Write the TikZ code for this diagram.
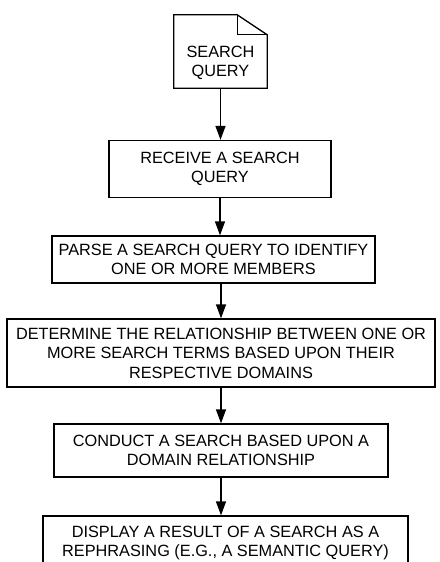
\documentclass[tikz,border=0pt]{standalone}
\usepackage{fontspec}
\setmainfont{Liberation Sans}
\usetikzlibrary{arrows.meta}

\begin{document}
\begin{tikzpicture}[x=1pt, y=-1pt,
        every node/.style={font=\fontsize{16.3}{19.5}\selectfont, align=center, inner sep=0pt},
        box/.style={draw, line width=1.3pt},
        flow/.style={line width=1.3pt, -{Triangle[length=14pt, width=10pt]}}
    ]
    \useasboundingbox (0,0) rectangle (439,562);

    % search query document
    \node (query) [minimum width=93pt, minimum height=73pt] at (220.5,51.5) {};
    \node (querytext) at (220.5,63) {SEARCH\\QUERY};
    \draw[line width=1.3pt] (query.south west) -- (query.north west)
        -- ([xshift=-30pt]query.north east) -- ([yshift=-20pt]query.north east)
        -- (query.south east) -- cycle;
    \draw[line width=1.3pt] ([xshift=-30pt]query.north east) |- ([yshift=-20pt]query.north east);

    % steps
    \node (receive) [box, minimum width=222pt, minimum height=57pt] at (220,169)
        {RECEIVE A SEARCH\\QUERY};
    \node (parse) [box, minimum width=323pt, minimum height=47pt] at (213.5,259.5)
        {PARSE A SEARCH QUERY TO IDENTIFY\\ONE OR MORE MEMBERS};
    \node (determine) [box, minimum width=428pt, minimum height=68pt] at (221,353)
        {DETERMINE THE RELATIONSHIP BETWEEN ONE OR\\MORE SEARCH TERMS BASED UPON THEIR\\RESPECTIVE DOMAINS};
    \node (conduct) [box, minimum width=334pt, minimum height=53pt] at (221,450.5)
        {CONDUCT A SEARCH BASED UPON A\\DOMAIN RELATIONSHIP};
    \node (display) [box, minimum width=365pt, minimum height=54pt] at (225.5,543)
        {DISPLAY A RESULT OF A SEARCH AS A\\REPHRASING (E.G., A SEMANTIC QUERY)};

    % arrows
    \draw[flow] (query.south) -- (query.south |- receive.north);
    \draw[flow] (receive.south) -- (receive.south |- parse.north);
    \draw[flow] (determine.north |- parse.south) -- (determine.north);
    \draw[flow] (determine.south) -- (conduct.north);
    \draw[flow] (conduct.south) -- (conduct.south |- display.north);

\end{tikzpicture}
\end{document}
